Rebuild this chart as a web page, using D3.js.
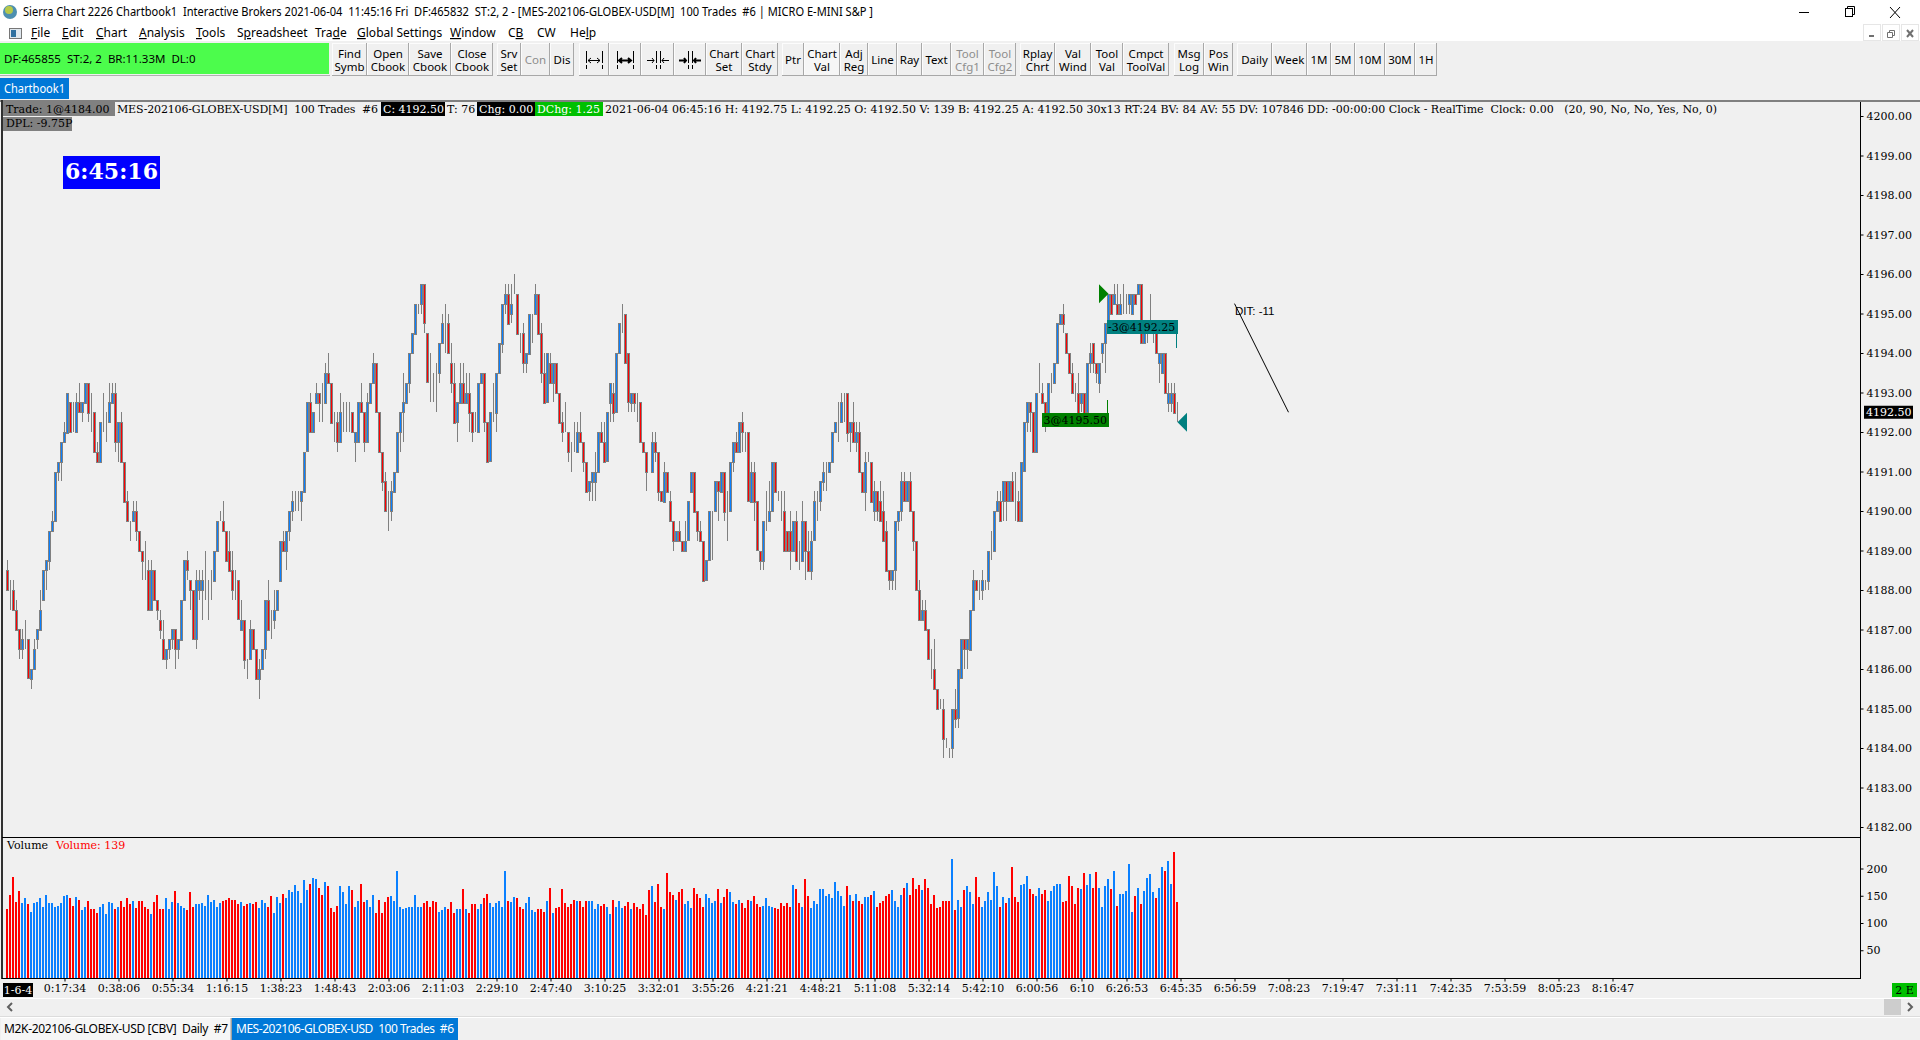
<!DOCTYPE html>
<html>
<head>
<meta charset="utf-8">
<title>Sierra Chart</title>
<script src="https://cdn.jsdelivr.net/npm/d3@7"></script>
<style>
  html, body { margin: 0; padding: 0; background: #fff; overflow: hidden; }
  svg { display: block; }
  .ui { font-family: "Noto Sans", sans-serif; font-size: 11.5px; }
  .ct { font-family: "DejaVu Serif", serif; font-size: 11px; }
</style>
</head>
<body>
<script>
// bars are stored in ticks of 0.25 above 4180
const basePrice = 4180, tickSize = 0.25;

const barOpen = [
  34,32,32,30,28,26,27,27,23,24, 27,28,31,34,35,38,39,44,45,47,
  48,51,48,48,51,50,51,53,50,50, 46,45,49,49,49,51,52,47,49,45,
  41,39,39,40,38,36,34,34,30,34, 31,29,27,25,26,27,28,26,27,31,
  35,33,32,27,32,32,33,33,33,33, 36,39,39,38,36,34,33,33,28,29,
  25,25,28,26,23,24,26,31,28,29, 30,33,37,36,38,40,41,41,41,42,
  46,51,48,51,52,51,51,54,53,49, 49,47,50,50,50,50,47,47,51,50,
  47,51,53,55,50,46,43,40,40,42, 44,48,50,51,53,56,58,61,61,63,
  58,53,53,53,54,57,59,59,55,53, 49,51,53,51,52,50,48,48,53,54,
  49,45,50,50,54,57,61,62,60,62, 62,58,58,55,56,60,60,62,58,54,
  51,55,53,55,52,49,48,48,46,46, 46,48,47,45,42,43,43,44,48,47,
  45,51,52,50,56,60,60,56,51,52, 51,51,47,46,44,44,47,46,42,41,
  44,41,39,37,38,37,36,37,42,44, 40,38,37,33,35,40,40,43,42,44,
  40,40,45,47,46,49,48,48,41,44, 41,36,35,39,39,40,45,42,42,40,
  38,38,36,39,35,35,39,36,34,37, 41,41,43,44,44,45,48,49,49,52,
  52,48,49,47,48,44,42,45,45,40, 42,41,40,38,34,33,34,39,40,43,
  41,43,40,37,32,29,30,28,24,24, 22,20,20,17,16,16,20,19,23,27,
  26,26,30,33,32,32,33,33,36,36, 40,41,41,43,41,43,41,41,39,44,
  49,51,50,46,52,52,51,50,53,53, 55,59,60,58,56,54,52,52,51,52,
  50,55,57,55,53,56,57,59,62,61, 61,60,61,61,61,60,62,62,63,57,
  58,58,58,58,55,54,56,51,51,52,50
];
const barClose = [
  32,32,30,28,26,27,27,23,24,26, 28,30,34,35,38,39,44,45,47,48,
  52,48,48,51,50,51,53,50,50,46, 45,49,49,49,51,52,47,49,45,41,
  39,39,40,38,36,35,34,30,34,31, 30,28,25,26,27,28,26,27,31,35,
  34,32,27,33,33,33,33,33,33,36, 39,39,38,35,34,32,33,29,29,25,
  25,28,26,23,24,26,31,28,28,30, 32,37,36,38,40,41,41,41,42,46,
  51,48,50,52,51,51,54,53,49,49, 47,50,50,50,50,48,48,51,50,47,
  51,53,55,50,46,43,40,40,42,44, 48,50,51,53,56,58,61,61,63,59,
  53,53,53,53,57,59,59,56,53,49, 51,53,51,52,50,48,48,53,54,49,
  45,50,50,54,57,61,62,59,61,62, 58,58,55,56,60,60,62,58,54,51,
  56,53,55,52,49,48,48,46,46,46, 48,47,45,42,43,44,44,48,47,45,
  50,53,50,56,59,60,55,51,52,51, 51,47,46,44,44,47,46,42,41,44,
  42,39,37,38,37,36,37,41,44,40, 38,37,33,35,40,40,43,42,44,40,
  40,45,47,46,49,48,48,41,44,41, 36,35,39,39,40,45,42,42,42,36,
  36,36,39,35,35,39,36,34,37,41, 41,43,44,44,45,48,49,49,51,52,
  48,49,47,48,44,42,45,45,41,42, 40,39,37,34,33,34,39,40,43,41,
  43,40,37,32,29,30,28,25,24,22, 20,20,17,17,16,20,19,24,27,26,
  27,30,33,32,32,33,33,36,36,40, 41,39,43,41,43,41,41,39,45,49,
  51,50,46,52,52,51,49,53,53,55, 59,60,59,56,54,52,52,50,52,50,
  55,56,55,54,55,57,59,62,60,62, 60,61,61,61,62,62,61,63,57,58,
  58,58,58,56,56,56,52,52,52,50,50
];
const barHigh = [
  35,33,33,31,28,28,29,27,24,27, 28,32,34,35,38,40,44,45,47,49,
  52,51,51,52,53,51,53,53,52,50, 47,49,52,50,53,53,53,49,50,45,
  42,39,41,41,38,36,37,35,35,34, 31,30,29,26,27,28,28,27,31,35,
  36,33,32,34,34,34,36,33,34,36, 39,40,41,38,38,36,34,33,31,29,
  25,29,28,26,25,26,31,33,30,32, 32,37,38,38,40,42,42,42,42,46,
  51,52,50,53,52,53,55,56,53,50, 50,52,51,51,51,50,48,51,53,50,
  52,53,56,55,50,46,44,42,43,44, 48,50,54,53,56,58,61,61,63,63,
  58,56,54,55,57,60,61,60,57,55, 51,55,55,54,54,50,50,53,54,54,
  49,50,53,54,57,61,63,63,63,64, 62,58,59,56,60,60,63,62,59,56,
  56,56,55,55,52,50,51,48,47,49, 49,50,47,45,43,44,46,48,49,49,
  50,53,53,56,59,61,60,56,52,52, 52,51,47,46,44,48,48,46,42,45,
  44,42,39,38,39,37,39,41,44,44, 40,39,37,35,40,40,43,43,44,44,
  42,45,47,48,49,50,48,48,45,45, 41,36,39,42,43,45,45,42,42,42,
  38,40,39,40,37,41,39,38,38,42, 42,43,45,45,45,48,49,51,52,52,
  52,49,51,49,49,44,46,46,45,43, 42,43,42,39,34,34,39,40,44,44,
  43,44,40,37,33,31,31,28,26,27, 22,21,21,17,16,20,22,24,27,27,
  27,30,34,33,33,34,33,36,38,40, 42,42,43,43,43,44,44,42,45,49,
  51,51,50,52,55,53,51,53,54,55, 59,60,61,58,56,55,53,54,52,52,
  55,57,57,55,55,57,59,62,62,63, 63,62,63,62,62,62,62,63,63,58,
  59,62,59,58,56,56,56,53,53,53,51
];
const barLow = [
  32,30,30,28,25,25,26,23,22,24, 26,28,31,32,34,38,39,43,43,47,
  48,48,48,48,50,49,51,49,48,46, 45,45,48,47,49,51,46,45,45,41,
  39,37,39,37,36,33,33,30,30,31, 29,27,25,24,25,26,24,25,27,31,
  33,30,27,26,31,29,31,29,31,33, 36,39,38,35,34,31,31,29,28,24,
  23,25,26,23,21,24,25,28,27,28, 30,33,36,34,37,39,40,40,39,42,
  46,48,48,51,49,49,51,53,49,47, 46,47,48,48,48,48,45,47,50,46,
  47,51,53,50,46,42,40,38,39,42, 44,46,47,51,52,56,58,60,60,58,
  53,51,51,50,53,57,56,56,52,49, 47,51,51,51,48,47,48,48,53,48,
  45,45,49,48,54,56,60,59,59,62, 58,56,54,54,56,57,60,58,53,51,
  51,53,51,52,49,47,48,45,44,46, 46,47,44,42,41,41,41,44,47,45,
  45,49,49,50,56,58,55,50,50,50, 49,47,46,42,44,44,45,41,41,41,
  42,39,36,37,37,36,36,37,42,40, 37,37,33,33,35,35,40,39,42,39,
  37,40,44,46,46,46,46,41,41,39, 36,34,34,38,39,40,42,41,39,36,
  36,34,36,35,34,35,33,34,33,37, 39,40,42,42,44,45,48,47,49,49,
  47,46,47,46,44,42,40,45,41,39, 39,39,37,34,32,32,32,38,39,41,
  41,40,36,32,29,29,28,25,23,22, 20,20,15,16,15,15,18,18,23,24,
  24,26,30,32,31,31,32,32,35,36, 40,39,39,39,41,41,39,39,39,44,
  48,48,46,46,52,51,48,50,52,53, 55,59,58,56,54,52,51,50,50,50,
  50,54,54,53,52,55,54,59,60,61, 60,60,60,60,60,60,61,62,57,57,
  57,58,57,56,53,54,52,50,50,50,49
];
const barVolume = [
  125,151,184,138,158,136,145,134,121,136, 138,145,129,151,136,136,130,132,136,149,
  151,145,132,147,143,123,130,141,125,125, 119,130,134,116,138,136,125,130,140,129,
  145,134,141,127,140,141,130,125,116,138, 151,125,125,145,125,138,158,136,132,127,
  123,156,129,134,134,136,132,151,138,142, 129,137,140,142,145,142,143,134,138,132,
  134,136,134,138,127,143,136,129,149,119, 147,136,153,145,160,156,169,158,136,178,
  160,171,182,180,164,151,175,167,127,121, 132,167,156,134,167,160,130,141,171,138,
  143,129,151,119,143,118,138,147,149,140, 195,129,125,127,130,129,151,130,129,136,
  141,130,141,138,121,123,129,125,138,119, 125,125,162,125,119,134,134,125,134,145,
  153,136,129,136,141,130,195,141,138,147, 145,129,125,136,147,123,121,125,125,121,
  140,164,118,127,129,162,136,129,134,143, 141,140,129,140,140,140,125,134,132,134,
  130,116,143,129,140,127,132,138,125,136, 129,125,134,114,160,167,138,171,129,125,
  191,156,151,143,156,162,134,141,127,164, 153,145,129,153,145,136,140,162,136,147,
  162,156,138,134,143,136,127,143,140,149, 134,129,132,145,132,130,127,125,136,132,
  136,129,169,162,136,130,180,149,127,140, 134,162,162,149,154,145,175,158,149,132,
  167,151,141,153,141,134,147,147,151,158, 129,136,140,149,153,160,141,130,151,165,
  173,151,182,162,169,160,180,165,134,151, 127,129,141,141,140,217,123,143,129,160,
  167,156,134,184,147,129,141,156,143,193, 167,130,147,136,145,202,147,138,169,171,
  186,162,153,149,164,153,160,140,158,167, 171,171,138,140,186,167,134,164,162,191,
  169,189,164,193,165,129,167,180,162,195, 132,153,153,158,208,121,149,164,134,158,
  182,189,156,145,165,202,195,213,171,230,139
];

const priceTicks = d3.range(4182, 4201);
const volumeTicks = [50, 100, 150, 200];
const timeTickBars = [1,19,37,55,73,91,109,127,145,163,181,199,217,235,253,271,289,307,325,343,358,373,391,409,427,445,463,481,499,517,535];
const timeTickLabels = ["1-6-4","0:17:34","0:38:06","0:55:34","1:16:15","1:38:23","1:48:43","2:03:06","2:11:03","2:29:10","2:47:40","3:10:25","3:32:01","3:55:26","4:21:21","4:48:21","5:11:08","5:32:14","5:42:10","6:00:56","6:10","6:26:53","6:45:35","6:56:59","7:08:23","7:19:47","7:31:11","7:42:35","7:53:59","8:05:23","8:16:47"];

const menuItems = ["File","Edit","Chart","Analysis","Tools","Spreadsheet","Trade","Global Settings","Window","CB","CW","Help"];
const menuHotkey = [0,0,0,0,0,1,3,0,0,1,-1,2];
const menuLeft = [31,62,96,139,196,237,315,357,450,508,537,570];
const toolbarLabels = [["Find","Symb"],["Open","Cbook"],["Save","Cbook"],["Close","Cbook"],["Srv","Set"],["Con"],["Dis"],[],[],[],[],["Chart","Set"],["Chart","Stdy"],["Ptr"],["Chart","Val"],["Adj","Reg"],["Line"],["Ray"],["Text"],["Tool","Cfg1"],["Tool","Cfg2"],["Rplay","Chrt"],["Val","Wind"],["Tool","Val"],["Cmpct","ToolVal"],["Msg","Log"],["Pos","Win"],["Daily"],["Week"],["1M"],["5M"],["10M"],["30M"],["1H"]];
const toolbarLeft = [332,367,409,451,497,521,550,579,609,641,674,706,742,782,804,840,868,897,922,951,984,1020,1055,1091,1123,1174,1204,1237,1272,1307,1331,1355,1385,1415];
const toolbarRight = [367,409,451,493,521,550,574,609,641,674,706,742,778,804,840,868,897,922,951,984,1016,1055,1091,1123,1169,1204,1233,1272,1307,1331,1355,1385,1415,1437];
const disabledButtons = ["Con","Tool Cfg1","Tool Cfg2"];

const titleText = "Sierra Chart 2226 Chartbook1  Interactive Brokers 2021-06-04  11:45:16 Fri  DF:465832  ST:2, 2 - [MES-202106-GLOBEX-USD[M]  100 Trades  #6 | MICRO E-MINI S&P ]";

const price = t => basePrice + t * tickSize;

const svg = d3.select("body").append("svg").attr("width", 1920).attr("height", 1040);

function rect(g, x, y, w, h, fill) {
  return g.append("rect").attr("x", x).attr("y", y).attr("width", w).attr("height", h).attr("fill", fill);
}
function line(g, x1, y1, x2, y2, color, width) {
  return g.append("line").attr("x1", x1).attr("y1", y1).attr("x2", x2).attr("y2", y2)
    .attr("stroke", color).attr("stroke-width", width || 1);
}
function text(g, x, y, str, cls, fill, anchor) {
  return g.append("text").attr("class", cls).attr("x", x).attr("y", y)
    .attr("fill", fill || "#000").attr("text-anchor", anchor || "start")
    .attr("dominant-baseline", "middle").attr("xml:space", "preserve")
    .style("white-space", "pre").text(str);
}

// ---- window chrome
rect(svg, 0, 0, 1920, 41, "#fff");
rect(svg, 0, 41, 1920, 999, "#f0f0f0");

const chrome = svg.append("g");
const globe = chrome.append("g");
globe.append("circle").attr("cx", 10).attr("cy", 12).attr("r", 7).attr("fill", "#4d8fb0");
globe.append("circle").attr("cx", 9).attr("cy", 10).attr("r", 4).attr("fill", "#b7c84a");
text(chrome, 23, 12.5, titleText, "ui").style("font-size", "12px").attr("textLength", 850).attr("lengthAdjust", "spacingAndGlyphs");

line(chrome, 1799, 12.5, 1809, 12.5, "#000");
chrome.append("rect").attr("x", 1845.5).attr("y", 8.5).attr("width", 7).attr("height", 8).attr("fill", "#fff").attr("stroke", "#000");
chrome.append("path").attr("d", "M1847.5 8.5V6.5H1854.5V14.5H1852.5").attr("fill", "none").attr("stroke", "#000");
line(chrome, 1890, 7, 1900, 18, "#000");
line(chrome, 1900, 7, 1890, 18, "#000");

// menu
chrome.append("rect").attr("x", 9.5).attr("y", 28.5).attr("width", 12).attr("height", 10).attr("fill", "#dfe7ee").attr("stroke", "#777");
rect(chrome, 11, 30, 5, 7, "#2f6f9f");
menuItems.forEach((m, i) => {
  const t = text(chrome, menuLeft[i], 34, "", "ui").style("font-size", "12px");
  const k = menuHotkey[i];
  for (let c = 0; c < m.length; c++) {
    t.append("tspan").text(m[c]).attr("text-decoration", c === k ? "underline" : null);
  }
});
[1872, 1891, 1910].forEach((x, i) => {
  chrome.append("rect").attr("x", x - 8.5).attr("y", 24.5).attr("width", 17).attr("height", 16).attr("fill", "#fff").attr("stroke", "#e6e6e6");
  if (i === 0) line(chrome, x - 3, 36, x + 2, 36, "#707070", 2);
  if (i === 1) chrome.append("path").attr("d", `M${x - 3.5} 32.5h5v5h-5zM${x - 1.5} 32.5v-2h5v5h-2`).attr("fill", "none").attr("stroke", "#707070");
  if (i === 2) { line(chrome, x - 3, 30, x + 3, 37, "#707070", 2); line(chrome, x + 3, 30, x - 3, 37, "#707070", 2); }
});

// status box + toolbar
rect(chrome, 0, 43, 329, 31, "#4cfc4c");
line(chrome, 0, 75.5, 330, 75.5, "#b0b0b0", 1);
text(chrome, 4, 59.5, "DF:465855  ST:2, 2  BR:11.33M  DL:0", "ui").style("font-size", "11.5px");

toolbarLabels.forEach((lab, i) => {
  const x0 = toolbarLeft[i], x1 = toolbarRight[i];
  const cx = (x0 + x1) / 2;
  const g = chrome.append("g");
  rect(g, x0, 43, x1 - x0, 33, lab[0] === "Chart" && lab[1] === "Val" ? "#f6f6f6" : "#f0f0f0");
  line(g, x0 + .5, 43, x0 + .5, 76, "#fcfcfc");
  line(g, x0, 43.5, x1, 43.5, "#fcfcfc");
  line(g, x1 - .5, 43, x1 - .5, 76, "#a8a8a8");
  line(g, x0, 75.5, x1, 75.5, "#a8a8a8");
  const off = disabledButtons.indexOf(lab.join(" ")) >= 0;
  const col = off ? "#8d8d8d" : "#000";
  if (lab.length === 2) {
    text(g, cx, 54.5, lab[0], "ui", col, "middle");
    text(g, cx, 67.5, lab[1], "ui", col, "middle");
  } else if (lab.length === 1) {
    text(g, cx, 60.5, lab[0], "ui", col, "middle");
  }
});

// four range icons in the toolbar
[594, 625, 658, 690].forEach((cx, i) => {
  const g = chrome.append("g").attr("stroke", "#000").attr("fill", "none");
  const gap = i < 2 ? 8 : 2;
  [-gap, gap].forEach(d => {
    g.append("line").attr("x1", cx + d + .5).attr("x2", cx + d + .5).attr("y1", 51).attr("y2", 70).attr("stroke-dasharray", "12 2 4 1");
  });
  const sw = i % 2 ? 2 : 1;
  if (i < 2) {
    g.append("path").attr("stroke-width", sw).attr("d", `M${cx - 6} 60.5H${cx + 6}M${cx - 3} 58l-3 2.5l3 2.5M${cx + 3} 58l3 2.5l-3 2.5`);
  } else {
    g.append("path").attr("stroke-width", sw).attr("d", `M${cx - 11} 60.5H${cx - 4}M${cx - 6} 58l2 2.5l-2 2.5M${cx + 11} 60.5H${cx + 4}M${cx + 6} 58l-2 2.5l2 2.5`);
  }
});

rect(chrome, 0, 78, 69, 21, "#0078d7");
text(chrome, 4, 89.5, "Chartbook1", "ui", "#fff").style("font-size", "12px").attr("textLength", 61).attr("lengthAdjust", "spacingAndGlyphs");

// ---- scales
const x = d3.scaleLinear().domain([0, 390]).range([7.5, 1177.5]);
const yPrice = d3.scaleLinear().domain([4182, 4200]).range([827, 116]);
const yVolume = d3.scaleLinear().domain([0, 200]).range([977.5, 868.5]);

const bars = d3.range(barOpen.length).map(i => ({
  i, o: price(barOpen[i]), h: price(barHigh[i]), l: price(barLow[i]), c: price(barClose[i]),
  v: barVolume[i]
}));
const upColor = "#0a80ff", downColor = "#ff0000", edgeColor = "#808080";
const barColor = d => d.c > d.o ? upColor : d.c < d.o ? downColor : edgeColor;
const px = d => Math.floor(x(d.i));

// ---- price pane
const pane = svg.append("g");
pane.selectAll("line.wick").data(bars).join("line").attr("class", "wick")
  .attr("x1", d => px(d) + .5).attr("x2", d => px(d) + .5)
  .attr("y1", d => Math.round(yPrice(d.h))).attr("y2", d => Math.round(yPrice(d.l)))
  .attr("stroke", edgeColor).attr("stroke-width", 1);

pane.selectAll("rect.body").data(bars).join("rect").attr("class", "body")
  .attr("x", d => px(d) - .5).attr("width", 2)
  .attr("y", d => Math.round(Math.min(yPrice(d.o), yPrice(d.c))) + .5)
  .attr("height", d => Math.round(Math.abs(yPrice(d.o) - yPrice(d.c))))
  .attr("fill", barColor).attr("stroke", edgeColor).attr("stroke-width", 1);

// ---- volume pane, colour carried by the price bar
let lastColor = upColor;
const volColors = bars.map(d => {
  if (d.c > d.o) lastColor = upColor;
  else if (d.c < d.o) lastColor = downColor;
  return lastColor;
});
svg.append("g").selectAll("rect").data(bars).join("rect")
  .attr("x", d => px(d) - 1).attr("width", 2)
  .attr("y", d => Math.round(yVolume(d.v))).attr("height", d => 978 - Math.round(yVolume(d.v)))
  .attr("fill", d => volColors[d.i]);

// ---- pane frames
const frame = svg.append("g");
rect(frame, 0, 100, 1920, 2, "#808080");
rect(frame, 1, 100, 2, 879, "#303030");
line(frame, 2, 837.5, 1861, 837.5, "#000");
line(frame, 2, 978.5, 1861, 978.5, "#000");
line(frame, 1860.5, 102, 1860.5, 979, "#000");
rect(frame, 0, 998, 1920, 1, "#fff");

// ---- axes
function styleAxis(g) {
  g.select(".domain").remove();
  g.selectAll("text").attr("class", "ct").attr("fill", "#000");
  g.selectAll("line").attr("stroke", "#000");
}
svg.append("g").attr("transform", "translate(1860.5,0)")
  .call(d3.axisRight(yPrice).tickValues(priceTicks).tickFormat(d3.format(".2f")).tickSize(3).tickPadding(3))
  .call(styleAxis);
svg.append("g").attr("transform", "translate(1860.5,0)")
  .call(d3.axisRight(yVolume).tickValues(volumeTicks).tickSize(3).tickPadding(3))
  .call(styleAxis);
svg.append("g").attr("transform", "translate(0,978.5)")
  .call(d3.axisBottom(x).tickValues(timeTickBars.slice(1))
    .tickFormat(d => timeTickLabels[timeTickBars.indexOf(d)]).tickSize(3).tickPadding(3))
  .call(styleAxis);

rect(frame, 3, 983, 30, 14, "#000");
text(frame, 18, 990.5, timeTickLabels[0], "ct", "#fff", "middle");
rect(frame, 1892, 983, 25, 14, "#00c000");
text(frame, 1904.5, 990.5, "2 E", "ct", "#000", "middle");

// last price label
const lastPrice = price(barClose[barClose.length - 1]);
rect(frame, 1864, yPrice(lastPrice) - 6.5, 49, 13, "#000");
text(frame, 1866, yPrice(lastPrice) + .5, d3.format(".2f")(lastPrice), "ct", "#fff");

// ---- header text of the chart
const head = svg.append("g");
rect(head, 3, 102, 112, 14, "#808080");
text(head, 6, 109.5, "Trade: 1@4184.00", "ct");
text(head, 117, 109.5, "MES-202106-GLOBEX-USD[M]  100 Trades  #6", "ct").attr("textLength", 261);
rect(head, 381, 102, 64, 14, "#000");
text(head, 383, 109.5, "C: 4192.50", "ct", "#fff");
text(head, 447, 109.5, "T: 76", "ct");
rect(head, 477, 102, 58, 14, "#000");
text(head, 479, 109.5, "Chg: 0.00", "ct", "#fff");
rect(head, 535, 102, 68, 14, "#00c000");
text(head, 537, 109.5, "DChg: 1.25", "ct", "#fff");
text(head, 605, 109.5, "2021-06-04 06:45:16 H: 4192.75 L: 4192.25 O: 4192.50 V: 139 B: 4192.25 A: 4192.50 30x13 RT:24 BV: 84 AV: 55 DV: 107846 DD: -00:00:00 Clock - RealTime  Clock: 0.00   (20, 90, No, No, Yes, No, 0)", "ct").attr("textLength", 1112);
rect(head, 3, 117, 69, 14, "#808080");
text(head, 6, 123.5, "DPL: -9.75P", "ct");

rect(head, 63, 156, 97, 33, "#0000ff");
text(head, 111.5, 173, "6:45:16", "ct", "#fff", "middle").style("font-size", "22px").style("font-weight", "bold")
  .attr("textLength", 93).attr("lengthAdjust", "spacingAndGlyphs");

text(head, 7, 846, "Volume", "ct");
text(head, 56, 846, "Volume: 139", "ct", "#ff0000");

// ---- trades and drawings
const buyBar = 367, sellBar = 390, buyPrice = 4195.5, sellPrice = 4192.25;
const marks = svg.append("g");
const bx = x(buyBar), by = yPrice(buyPrice), sx = x(sellBar), sy = yPrice(sellPrice);
marks.append("path").attr("d", `M${bx} ${by}l-9.5 -9.5v19z`).attr("fill", "#008000");
line(marks, 1107.5, 400, 1107.5, 413, "#008000");
rect(marks, 1042, 413, 67, 14, "#008000");
text(marks, 1043.5, 420.5, "3@4195.50", "ct");
marks.append("path").attr("d", `M${sx} ${sy}l9.5 -9.5v19z`).attr("fill", "#008080");
line(marks, 1176.5, 334, 1176.5, 348, "#008080");
rect(marks, 1107, 320, 71, 14, "#008080");
text(marks, 1108, 327.5, "-3@4192.25", "ct");

line(marks, x(409), yPrice(4195.25), x(427), yPrice(4192.5), "#000");
text(marks, 1235, 312, "DIT: -11", "ui").style("font-family", "'Liberation Sans', sans-serif").style("font-size", "11.5px");

// ---- scrollbar and tabs
const foot = svg.append("g");
foot.append("path").attr("d", "M12 1003l-4 4l4 4").attr("fill", "none").attr("stroke", "#606060").attr("stroke-width", 2);
rect(foot, 1884, 999, 17, 16, "#cdcdcd");
foot.append("path").attr("d", "M1908 1003l4 4l-4 4").attr("fill", "none").attr("stroke", "#606060").attr("stroke-width", 2);
rect(foot, 0, 1016, 1920, 1, "#dcdcdc");
rect(foot, 0, 1017, 1920, 1, "#fff");
rect(foot, 1, 1018, 230, 22, "#f6f6f6");
line(foot, 231.5, 1018, 231.5, 1040, "#a0a0a0", 2);
text(foot, 4, 1029.5, "M2K-202106-GLOBEX-USD [CBV]  Daily  #7", "ui").style("font-size", "12px").attr("textLength", 224);
rect(foot, 232, 1018, 226, 22, "#0078d7");
text(foot, 236, 1029.5, "MES-202106-GLOBEX-USD  100 Trades  #6", "ui", "#fff").style("font-size", "12px").attr("textLength", 218);
</script>
</body>
</html>
